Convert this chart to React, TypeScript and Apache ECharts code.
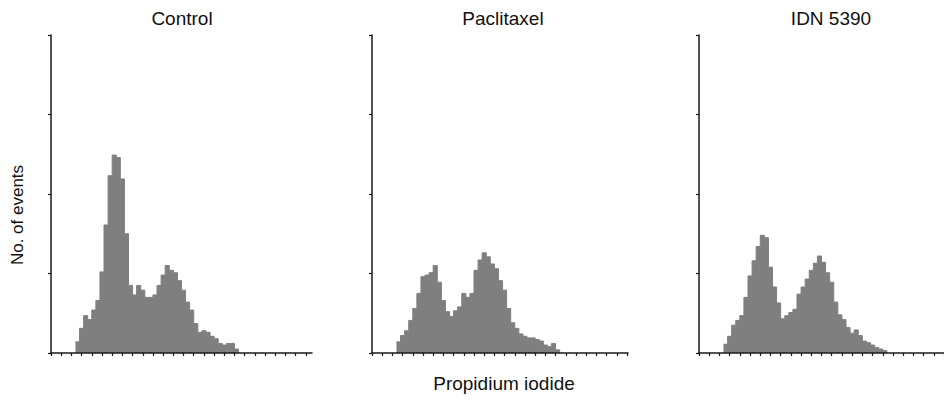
import React, { useEffect, useRef } from "react";
import * as echarts from "echarts";

// Histogram bins: left edge channels (bin width 4) and heights (axis units 0..4)
const binStart = 24;
const binWidth = 4;
const controlCounts = [0.14,0.31,0.47,0.42,0.54,0.66,1.02,1.61,2.23,2.49,2.46,2.19,1.50,0.85,0.73,0.85,0.79,0.70,0.70,0.73,0.85,0.98,1.10,1.04,1.01,0.91,0.79,0.64,0.54,0.37,0.26,0.28,0.26,0.21,0.18,0.12,0.10,0.12,0.12,0.05];
const paclitaxelCounts = [0.14,0.22,0.28,0.41,0.56,0.75,0.96,0.98,1.01,1.10,0.89,0.66,0.52,0.46,0.53,0.58,0.75,0.70,0.75,1.04,1.17,1.26,1.21,1.12,1.06,0.91,0.79,0.56,0.38,0.31,0.24,0.21,0.19,0.19,0.17,0.15,0.10,0.08,0.12,0.04];
const idnCounts = [0.11,0.21,0.35,0.41,0.47,0.70,0.97,1.16,1.34,1.48,1.45,1.08,0.83,0.63,0.43,0.47,0.51,0.55,0.74,0.83,0.93,1.04,1.13,1.22,1.14,1.01,0.89,0.64,0.48,0.42,0.32,0.25,0.29,0.22,0.15,0.13,0.10,0.07,0.05,0.03];
const panelTitles = ["Control", "Paclitaxel", "IDN 5390"];
const xTickValues = [0,10,20,30,40,50,60,70,80,90,100,110,120,130,140,150,160,170,180,190,200,210,220,230,240,250];
const yMax = 4;
const xAxisTitle = "Propidium iodide";
const yAxisTitle = "No. of events";

export default function App() {
  const ref = useRef<HTMLDivElement>(null);
  useEffect(() => {
    if (!ref.current) return;
    const chart = echarts.init(ref.current, undefined, { renderer: "svg" });
    const panels = [
      { counts: controlCounts, left: 51, width: 261, xMax: 256, top: 35, height: 318 },
      { counts: paclitaxelCounts, left: 372, width: 256, xMax: 251, top: 35, height: 318 },
      { counts: idnCounts, left: 699, width: 245, xMax: 240, top: 35, height: 318 },
    ];
    const toData = (counts: number[]) => {
      const d: number[][] = counts.map((v, i) => [binStart + i * binWidth, v]);
      d.push([binStart + counts.length * binWidth, 0]);
      return d;
    };
    const axisColor = "#1a1a1a";
    const font = "'Liberation Sans', Arial, Helvetica, sans-serif";
    chart.setOption({
      animation: false,
      backgroundColor: "#ffffff",
      grid: panels.map((p) => ({
        left: p.left,
        top: p.top,
        width: p.width,
        height: p.height,
        outerBoundsMode: "none",
      })),
      xAxis: panels.map((p, i) => ({
        type: "value",
        gridIndex: i,
        min: 0,
        max: p.xMax,
        interval: 10,
        z: 5,
        axisLine: { show: true, lineStyle: { color: axisColor, width: 1.5 } },
        axisTick: { show: true, length: 3, customValues: xTickValues, lineStyle: { color: axisColor, width: 1.2 } },
        axisLabel: { show: false },
        splitLine: { show: false },
      })),
      yAxis: panels.map((p, i) => ({
        type: "value",
        gridIndex: i,
        min: 0,
        max: yMax,
        interval: 1,
        z: 5,
        axisLine: { show: true, lineStyle: { color: axisColor, width: 1.5 } },
        axisTick: { show: true, length: 3, lineStyle: { color: axisColor, width: 1.2 } },
        axisLabel: { show: false },
        splitLine: { show: false },
      })),
      series: panels.map((p, i) => ({
        type: "line",
        xAxisIndex: i,
        yAxisIndex: i,
        step: "end",
        symbol: "none",
        z: 2,
        data: toData(p.counts),
        lineStyle: { width: 1, color: "#7f7f7f" },
        areaStyle: { color: "#7f7f7f", opacity: 1 },
      })),
      graphic: [
        ...panelTitles.map((t, i) => ({
          type: "text",
          x: [182, 503, 831][i],
          y: 18,
          style: { text: t, fill: "#111", font: `19px ${font}`, textAlign: "center", textVerticalAlign: "middle" },
        })),
        {
          type: "text",
          x: 504,
          y: 383,
          style: { text: xAxisTitle, fill: "#111", font: `19px ${font}`, textAlign: "center", textVerticalAlign: "middle" },
        },
        {
          type: "text",
          x: 17,
          y: 215,
          rotation: Math.PI / 2,
          style: { text: yAxisTitle, fill: "#111", font: `17px ${font}`, textAlign: "center", textVerticalAlign: "middle" },
        },
      ],
    });
    return () => chart.dispose();
  }, []);
  return (
    <div
      ref={ref}
      style={{ position: "absolute", left: 0, top: 0, width: 944, height: 403, background: "#fff" }}
    />
  );
}
